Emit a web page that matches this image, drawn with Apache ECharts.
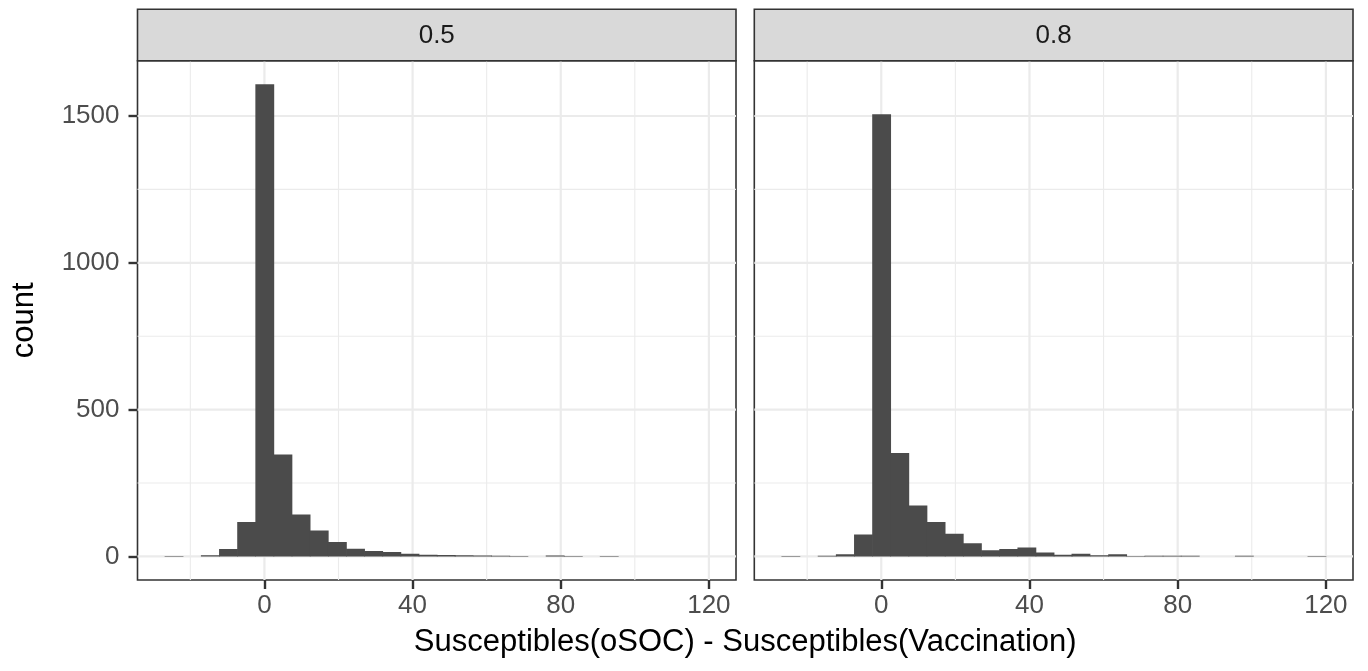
<!DOCTYPE html>
<html><head><meta charset="utf-8">
<script src="https://cdn.jsdelivr.net/npm/echarts@6/dist/echarts.min.js"></script>
<style>html,body{margin:0;padding:0;background:#fff}#c{width:1368px;height:671px}</style>
</head><body><div id="c"></div>
<script>
// ---- data ----
const binCenters = [-24.5, -19.6, -14.7, -9.8, -4.9, 0, 4.9, 9.8, 14.7, 19.6,
                    24.5, 29.4, 34.3, 39.2, 44.1, 49.0, 53.8, 58.8, 63.7, 68.6,
                    73.5, 78.4, 83.3, 88.1, 93.0, 97.9, 102.8, 107.7, 112.6, 117.5];
const binWidth = 4.897;
const panelLabels = ['0.5', '0.8'];
const counts05 = [1, 0, 4, 25, 117, 1608, 347, 143, 88, 49,
                  26, 18, 15, 9, 6, 5, 4, 3, 2, 1,
                  0, 3, 1, 0, 1, 0, 0, 0, 0, 0];
const counts08 = [1, 0, 2, 7, 75, 1506, 352, 173, 117, 77,
                  45, 21, 25, 30, 13, 6, 9, 4, 7, 1,
                  2, 2, 2, 0, 0, 2, 0, 0, 0, 1];
const xTicks = [0, 40, 80, 120];
const xMinorTicks = [-20, 20, 60, 100];
const yTicks = [0, 500, 1000, 1500];
const yMinorTicks = [250, 750, 1250];
const xTitle = 'Susceptibles(oSOC) - Susceptibles(Vaccination)';
const yTitle = 'count';

// ---- layout ----
const xMin = -34.27, xMax = 127.32, yMin = -80.4, yMax = 1688.4;
const panels = [
  {left: 137.5, top: 60.7, width: 598.5, height: 519.3},
  {left: 754.3, top: 60.7, width: 598.7, height: 519.3}
];
const stripTop = 9.3;
const FONT = 'Liberation Sans, Arial, Helvetica, sans-serif';
const allCounts = [counts05, counts08];

function barRender(params, api) {
  const c = api.value(0), v = api.value(1);
  const p0 = api.coord([c - binWidth / 2, v]);
  const p1 = api.coord([c + binWidth / 2, 0]);
  return {type: 'rect', shape: {x: p0[0], y: p0[1], width: p1[0] - p0[0] + 0.7, height: p1[1] - p0[1]},
          style: {fill: '#4b4b4b'}};
}
function vLineRender(w) {
  return function (params, api) {
    const v = api.value(0);
    const a = api.coord([v, yMin]), b = api.coord([v, yMax]);
    return {type: 'line', shape: {x1: a[0], y1: a[1], x2: b[0], y2: b[1]},
            style: {stroke: '#ebebeb', lineWidth: w}};
  };
}
function hLineRender(w) {
  return function (params, api) {
    const v = api.value(1);
    const a = api.coord([xMin, v]), b = api.coord([xMax, v]);
    return {type: 'line', shape: {x1: a[0], y1: a[1], x2: b[0], y2: b[1]},
            style: {stroke: '#ebebeb', lineWidth: w}};
  };
}
const plain = v => String(v);

const grid = [], xAxis = [], yAxis = [], series = [], graphic = [];
panels.forEach((p, i) => {
  grid.push({left: p.left, top: p.top, width: p.width, height: p.height,
             show: true, borderColor: '#333333', borderWidth: 1.6, backgroundColor: '#fff'});
  xAxis.push({type: 'value', gridIndex: i, min: xMin, max: xMax, position: 'bottom',
    axisLine: {show: false, onZero: false}, splitLine: {show: false},
    axisTick: {show: true, customValues: xTicks, length: 9, lineStyle: {color: '#333333', width: 2.4}},
    axisLabel: {show: true, customValues: xTicks, formatter: plain, margin: 13, fontSize: 26, color: '#4d4d4d', fontFamily: FONT}});
  yAxis.push({type: 'value', gridIndex: i, min: yMin, max: yMax, position: 'left',
    axisLine: {show: false, onZero: false}, splitLine: {show: false},
    axisTick: {show: i === 0, customValues: yTicks, length: 9, lineStyle: {color: '#333333', width: 2.4}},
    axisLabel: {show: i === 0, customValues: yTicks, formatter: plain, margin: 18, fontSize: 26, color: '#4d4d4d', fontFamily: FONT}});
  series.push({type: 'custom', xAxisIndex: i, yAxisIndex: i, z: 1, silent: true, clip: true,
    renderItem: vLineRender(1.1), data: xMinorTicks.map(v => [v, 0]), encode: {x: 0, y: 1}});
  series.push({type: 'custom', xAxisIndex: i, yAxisIndex: i, z: 1, silent: true, clip: true,
    renderItem: hLineRender(1.1), data: yMinorTicks.map(v => [0, v]), encode: {x: 0, y: 1}});
  series.push({type: 'custom', xAxisIndex: i, yAxisIndex: i, z: 2, silent: true, clip: true,
    renderItem: vLineRender(2.2), data: xTicks.map(v => [v, 0]), encode: {x: 0, y: 1}});
  series.push({type: 'custom', xAxisIndex: i, yAxisIndex: i, z: 2, silent: true, clip: true,
    renderItem: hLineRender(2.2), data: yTicks.map(v => [0, v]), encode: {x: 0, y: 1}});
  series.push({type: 'custom', xAxisIndex: i, yAxisIndex: i, z: 3, clip: true,
    renderItem: barRender, data: binCenters.map((c, k) => [c, allCounts[i][k]]), encode: {x: 0, y: 1}});
  graphic.push({type: 'rect', shape: {x: p.left, y: stripTop, width: p.width, height: p.top - stripTop},
    style: {fill: '#d9d9d9', stroke: '#333333', lineWidth: 1.6}, z: 10});
  graphic.push({type: 'text', x: p.left + p.width / 2, y: (stripTop + p.top) / 2 + 1,
    style: {text: panelLabels[i], font: '26px ' + FONT, fill: '#1a1a1a', textAlign: 'center', textVerticalAlign: 'middle'}, z: 11});
});
graphic.push({type: 'text', x: (panels[0].left + panels[1].left + panels[1].width) / 2, y: 642,
  style: {text: xTitle, font: '31px ' + FONT, fill: '#000', textAlign: 'center', textVerticalAlign: 'middle'}});
graphic.push({type: 'text', x: 24, y: (panels[0].top + panels[0].top + panels[0].height) / 2, rotation: Math.PI / 2,
  style: {text: yTitle, font: '31px ' + FONT, fill: '#000', textAlign: 'center', textVerticalAlign: 'middle'}});

const chart = echarts.init(document.getElementById('c'), null, {renderer: 'canvas'});
chart.setOption({animation: false, backgroundColor: '#fff', grid, xAxis, yAxis, series, graphic});
</script></body></html>
